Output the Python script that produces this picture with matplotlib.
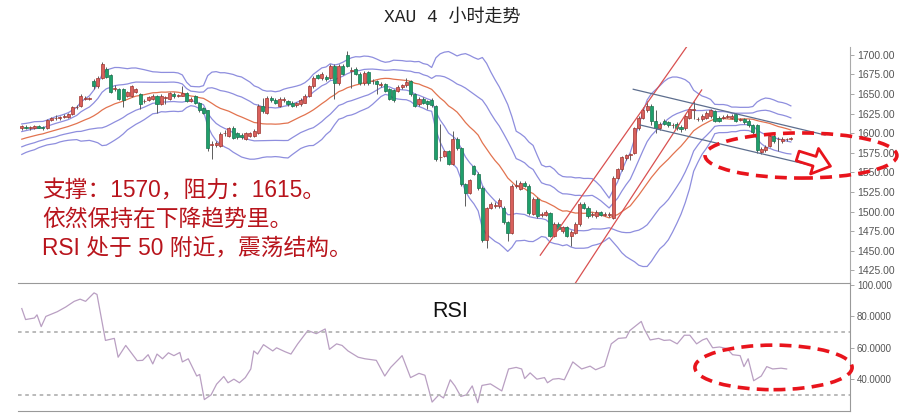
import numpy as np
import pandas as pd
import matplotlib
matplotlib.use("Agg")
import matplotlib.pyplot as plt
from matplotlib.patches import Ellipse, FancyArrowPatch

# 4h candles, left to right
opens = [1606, 1608, 1607, 1606, 1609, 1608, 1606, 1617, 1619, 1619, 1621, 1621, 1625, 1633, 1635, 1644,
         1644, 1667, 1660, 1671, 1682, 1674, 1657, 1657, 1657, 1648, 1648, 1653, 1650, 1641, 1643, 1644,
         1648, 1637, 1645, 1644, 1650, 1648, 1648, 1651, 1641, 1648, 1639, 1632, 1629, 1585, 1585, 1584,
         1600, 1597, 1607, 1600, 1598, 1593, 1597, 1597, 1600, 1635, 1626, 1645, 1643, 1635,
         1643, 1641, 1639, 1636, 1637, 1639, 1648, 1660, 1674, 1670, 1672, 1671, 1686, 1664, 1686, 1700,
         1680, 1682, 1676, 1664, 1678, 1666, 1666, 1662, 1663, 1657, 1655, 1654, 1659, 1661, 1667, 1650,
         1637, 1644, 1641, 1643,
         1635, 1569, 1571, 1577, 1561, 1593, 1581, 1535, 1524, 1558, 1548, 1530, 1463, 1505, 1507, 1507,
         1505, 1486, 1473, 1533, 1529, 1537, 1533, 1497, 1516, 1496, 1496, 1498, 1469, 1484, 1475, 1480,
         1469, 1473, 1484, 1510, 1505, 1496, 1494, 1499, 1496, 1496,
         1492, 1543, 1554, 1568, 1572, 1575, 1606, 1620, 1629, 1635, 1616, 1606, 1616, 1614, 1610, 1612,
         1608, 1606, 1620, 1630, 1618, 1618, 1620, 1622, 1628, 1620, 1620, 1621, 1620, 1624, 1617, 1618,
         1616, 1610, 1610, 1576, 1578, 1584, 1597, 1592, 1590, 1592, 1593]
highs = [1611, 1610, 1609, 1611, 1610, 1609, 1618, 1621, 1623, 1622, 1624, 1626, 1635, 1636, 1650, 1647,
         1646, 1669, 1673, 1691, 1684, 1675, 1662, 1658, 1658, 1654, 1662, 1658, 1651, 1644, 1648, 1650,
         1649, 1650, 1648, 1653, 1652, 1650, 1660, 1652, 1646, 1649, 1640, 1633, 1630, 1590, 1590, 1601,
         1604, 1608, 1609, 1601, 1600, 1602, 1602, 1605, 1637, 1645, 1648, 1647, 1645, 1646,
         1646, 1643, 1641, 1640, 1645, 1650, 1662, 1673, 1676, 1678, 1674, 1688, 1688, 1688, 1688, 1705,
         1684, 1684, 1678, 1679, 1680, 1669, 1668, 1665, 1664, 1658, 1656, 1661, 1663, 1670, 1668, 1651,
         1646, 1646, 1643, 1645,
         1636, 1612, 1579, 1579, 1603, 1595, 1583, 1537, 1542, 1560, 1550, 1532, 1506, 1512, 1512, 1517,
         1507, 1488, 1535, 1540, 1539, 1539, 1535, 1518, 1518, 1499, 1502, 1500, 1486, 1486, 1482, 1482,
         1476, 1486, 1512, 1512, 1507, 1499, 1502, 1501, 1499, 1499,
         1545, 1556, 1571, 1574, 1575, 1608, 1622, 1634, 1641, 1637, 1630, 1614, 1618, 1616, 1613, 1614,
         1610, 1624, 1633, 1641, 1621, 1624, 1628, 1631, 1630, 1622, 1623, 1624, 1624, 1626, 1620, 1620,
         1618, 1612, 1612, 1582, 1585, 1599, 1599, 1595, 1595, 1594, 1595]
lows = [1604, 1605, 1604, 1605, 1606, 1604, 1605, 1615, 1617, 1617, 1619, 1620, 1623, 1631, 1633, 1642,
        1642, 1657, 1658, 1669, 1670, 1651, 1654, 1642, 1634, 1646, 1646, 1651, 1631, 1639, 1641, 1642,
        1626, 1636, 1637, 1643, 1645, 1646, 1647, 1640, 1640, 1637, 1627, 1624, 1577, 1567, 1583, 1582,
        1597, 1595, 1592, 1593, 1593, 1591, 1595, 1595, 1599, 1626, 1624, 1640, 1637, 1633,
        1640, 1635, 1633, 1634, 1635, 1638, 1646, 1658, 1669, 1668, 1667, 1669, 1644, 1662, 1674, 1684,
        1658, 1674, 1662, 1662, 1662, 1663, 1650, 1659, 1652, 1642, 1640, 1652, 1657, 1659, 1648, 1633,
        1635, 1637, 1631, 1634,
        1564, 1565, 1569, 1559, 1559, 1579, 1533, 1507, 1522, 1546, 1528, 1461, 1454, 1503, 1504, 1505,
        1484, 1462, 1471, 1530, 1527, 1531, 1496, 1495, 1492, 1493, 1494, 1467, 1467, 1476, 1473, 1467,
        1456, 1471, 1482, 1503, 1492, 1493, 1492, 1494, 1494, 1493,
        1490, 1541, 1552, 1566, 1566, 1573, 1604, 1618, 1627, 1610, 1600, 1604, 1610, 1608, 1607, 1604,
        1602, 1604, 1618, 1618, 1616, 1616, 1618, 1620, 1614, 1614, 1618, 1619, 1618, 1614, 1615, 1612,
        1608, 1599, 1575, 1573, 1576, 1582, 1588, 1577, 1588, 1590, 1591]
closes = [1609, 1607, 1607.5, 1609, 1607, 1606, 1617, 1619, 1619.5, 1621, 1622, 1624, 1633, 1634, 1648, 1644.5,
          1644.5, 1660, 1671, 1688, 1672, 1653, 1657.5, 1644, 1642, 1652, 1660, 1656, 1637, 1641.5, 1646, 1648,
          1637, 1648, 1645.5, 1651, 1647, 1648.5, 1651, 1641, 1644, 1639, 1629, 1626, 1581, 1585.5, 1588, 1599,
          1600.5, 1606, 1594, 1595, 1595, 1600, 1600, 1603, 1635, 1628, 1645, 1642, 1639, 1644,
          1643.5, 1637, 1635, 1638, 1643, 1648, 1660, 1671, 1671, 1676, 1669, 1686, 1664, 1686, 1676, 1686,
          1680.5, 1676, 1664, 1677, 1664, 1666.5, 1663, 1662.5, 1654, 1644, 1642, 1659, 1661, 1665, 1650, 1635,
          1644, 1639, 1637, 1636,
          1567, 1569.5, 1577, 1561, 1593, 1581, 1535, 1524, 1540, 1548, 1530, 1463, 1504, 1510, 1507.5, 1515,
          1486, 1473, 1533, 1533.5, 1537, 1533, 1498, 1516, 1494, 1496.5, 1500, 1469, 1484, 1478, 1480, 1469,
          1474, 1484, 1510, 1505, 1494, 1496.5, 1500, 1496, 1496.5, 1497,
          1543, 1554, 1569, 1572, 1573, 1606, 1620, 1629, 1635, 1616, 1606, 1612, 1612, 1610, 1610.5, 1606,
          1605, 1622, 1631, 1630.5, 1618.5, 1622, 1626, 1629, 1616, 1616, 1620.5, 1621.5, 1622, 1616, 1617.5, 1614,
          1610, 1601, 1578, 1580, 1583, 1597, 1590, 1592.5, 1593, 1592.5, 1593.5]
# closes before the visible window (only used to warm up the bands)
pre_closes = [1576, 1574, 1579, 1582, 1580, 1585, 1583, 1588, 1590, 1587,
              1592, 1595, 1593, 1597, 1600, 1598, 1602, 1604, 1603, 1606]

# RSI (candle index, value)
rsi_x = [0, 0.9, 3.0, 3.6, 4.6, 5.7, 8.4, 10.4, 12.4, 13.8, 15.1, 17.1, 17.8, 19.8, 21.9, 22.8, 24.6,
         27.3, 28.6, 29.9, 31.0, 32.0, 33.3, 34.7, 36.0, 37.4, 38.0, 39.4, 41.4, 42.1, 43.2, 44.8, 46.1,
         47.8, 48.8, 50.2, 51.5, 52.9, 54.2, 54.9, 55.8, 57.2, 59.4, 60.3, 62.3, 63.7, 65.3, 67.7, 69.7,
         71.8, 72.8, 74.5, 75.8, 77.2, 79.6, 81.2, 83.9, 85.9, 87.3, 89.3, 90.0, 92.0, 94.0, 95.4, 97.1,
         98.7, 99.8, 101.4, 102.5, 103.9, 105.2, 106.6, 107.9, 108.9, 110.9, 113.6, 115.2, 117.0, 118.3,
         119.0, 120.3, 121.9, 123.7, 124.4, 125.7, 127.1, 128.4, 130.4, 132.5, 134.5, 135.8, 137.9, 139.5,
         141.2, 143.0, 143.9, 146.6, 147.3, 148.7, 150.7, 152.0, 153.4, 155.1, 156.8, 158.1, 159.7, 161.1,
         162.1, 163.5, 165.1, 166.9, 168.2, 170.0, 170.9, 171.9, 173.2, 175.0, 176.3, 177.7, 179.7, 181.0]
rsi_vals = [85, 78, 79, 81, 73.5, 80, 83, 86, 89.6, 91, 89.6, 95, 94, 64.7, 66, 54, 61.5,
            51.8, 52, 55.6, 49.7, 56, 53, 56.8, 55, 57, 51, 53, 42, 43, 27, 30, 36.8,
            41.7, 37.7, 40, 37.7, 41, 46.5, 58, 56, 62, 58, 60, 57.5, 56, 62.5, 71, 69,
            72, 59, 62.5, 61.5, 58, 54, 53, 52, 42, 47.5, 53, 55, 41, 43.7, 42.5, 25.4,
            30, 28, 39.6, 35.7, 29, 30, 35.7, 25, 36, 37, 32.5, 46.5, 47.5, 46.5,
            40.4, 44, 40, 41, 37.7, 40, 40.4, 39.6, 51, 46.5, 48.3, 46, 48.3, 62.5,
            66, 66.4, 71, 76.8, 72, 65, 66, 64.7, 65, 62.5, 68, 68, 62.5, 65,
            66, 60, 60.5, 59.5, 55.6, 55, 48, 53, 39, 42, 48, 46.5, 47, 46.5]

price_ticks = [1425, 1450, 1475, 1500, 1525, 1550, 1575, 1600, 1625, 1650, 1675, 1700]
rsi_ticks = [100, 80, 60, 40]
rsi_ticklabels = ['100.000', '80.0000', '60.0000', '40.0000']

# hand-drawn lines (candle index, price)
up_line1 = ([122.7, 157.5], [1444.2, 1711.5])
up_line2 = ([130.7, 160.9], [1406.0, 1655.2])
chan_top = ([144.7, 190.1], [1656.1, 1597.7])
chan_bot = ([146.3, 189.7], [1610.5, 1555.1])

title = 'XAU 4 小时走势'
notes = ['支撑：1570，阻力：1615。', '依然保持在下降趋势里。', 'RSI 处于 50 附近，震荡结构。']

o = np.array(opens, float)
h = np.array(highs, float)
l = np.array(lows, float)
c = np.array(closes, float)
idx = np.arange(len(c))

allc = pd.Series(pre_closes + closes, dtype=float)
n0 = len(pre_closes)
mid = allc.rolling(20).mean().to_numpy()[n0:]
sd = allc.rolling(20).std(ddof=0).to_numpy()[n0:]

fig = plt.figure(figsize=(8.99, 4.2), dpi=100)
ax = fig.add_axes([0.020, 0.3286, 0.9255, 0.5594])
ax2 = fig.add_axes([0.020, 0.0214, 0.9255, 0.3048])
xlim = (-0.9, 196.0)

band_col = '#8e8ede'
ax.plot(idx, mid + 2 * sd, color=band_col, lw=0.9)
ax.plot(idx, mid + sd, color=band_col, lw=0.9)
ax.plot(idx, mid - sd, color=band_col, lw=0.9)
ax.plot(idx, mid - 2 * sd, color=band_col, lw=0.9)
ax.plot(idx, mid, color='#e2734f', lw=0.9)

# candles
up = c >= o
ax.vlines(idx, l, h, color='#5c5c5c', lw=0.7, zorder=3)
body_bot = np.minimum(o, c)
body_h = np.maximum(np.abs(c - o), 0.7)
ax.bar(idx, body_h, bottom=body_bot, width=0.72,
       color=np.where(up, '#d9605c', '#1f9f6b'),
       edgecolor=np.where(up, '#9e3530', '#17734e'), linewidth=0.5, zorder=4)

ax.plot(*up_line1, color='#d95050', lw=0.9, zorder=5)
ax.plot(*up_line2, color='#d95050', lw=0.9, zorder=5, clip_on=False)
ax.plot(*chan_top, color='#5d6e8e', lw=0.9, zorder=5)
ax.plot(*chan_bot, color='#5d6e8e', lw=0.9, zorder=5)

ax.set_xlim(*xlim)
ax.set_ylim(1410, 1710)
ax.set_xticks([])
ax.yaxis.tick_right()
ax.set_yticks(price_ticks)
ax.set_yticklabels([f'{v:.2f}' for v in price_ticks], family='Liberation Sans')
ax.tick_params(axis='y', length=3, width=0.6, color='#999999', labelsize=7.5,
               labelcolor='#555555', pad=2)
for s in ['left', 'top', 'bottom']:
    ax.spines[s].set_visible(False)
ax.spines['right'].set_color('#aaaaaa')
ax.spines['right'].set_linewidth(0.8)

red = '#e8141c'
ax.add_patch(Ellipse((184.4, 1571.5), 45.4, 57.6, fill=False, edgecolor=red, lw=2.6,
                     ls=(0, (3.3, 2)), clip_on=False, zorder=6))
ax.add_patch(FancyArrowPatch((183.0, 1572), (192.0, 1556.8),
                             arrowstyle='simple,head_width=1.6,head_length=1.0,tail_width=0.6',
                             mutation_scale=12, fc='white', ec=red, lw=2, clip_on=False, zorder=7))

for i, line in enumerate(notes):
    fig.text(42 / 899, 1 - (191 + 28.5 * i) / 420, line, color='#b8141c', fontsize=16.4,
             family=['Liberation Sans', 'Noto Sans CJK SC'], ha='left', va='center')

fig.text(452 / 899, 1 - 17 / 420, title, fontsize=13, color='#222222',
         family=['Liberation Mono', 'Noto Sans CJK SC'], ha='center', va='center')

# RSI panel
ax2.plot(rsi_x, rsi_vals, color='#b99fc2', lw=0.9)
ax2.axhline(70, color='#b4b4b4', lw=1.3, ls=(0, (2, 2)))
ax2.axhline(30, color='#b4b4b4', lw=1.3, ls=(0, (2, 2)))
ax2.add_patch(Ellipse((177.9, 47.5), 37.2, 28.4, fill=False, edgecolor=red, lw=2.6,
                      ls=(0, (3.3, 2)), clip_on=False, zorder=6))
ax2.text(0.52, 0.78, 'RSI', transform=ax2.transAxes, fontsize=15.5,
         family='Liberation Sans', ha='center', va='center', color='#111111')
ax2.set_xlim(*xlim)
ax2.set_ylim(19.7, 101.3)
ax2.set_xticks([])
ax2.yaxis.tick_right()
ax2.set_yticks(rsi_ticks)
ax2.set_yticklabels(rsi_ticklabels, family='Liberation Sans')
ax2.tick_params(axis='y', length=3, width=0.6, color='#999999', labelsize=7,
                labelcolor='#555555', pad=2)
ax2.spines['left'].set_visible(False)
for s in ['top', 'bottom', 'right']:
    ax2.spines[s].set_color('#999999')
    ax2.spines[s].set_linewidth(0.8)

fig.savefig('out.png', dpi=100)
